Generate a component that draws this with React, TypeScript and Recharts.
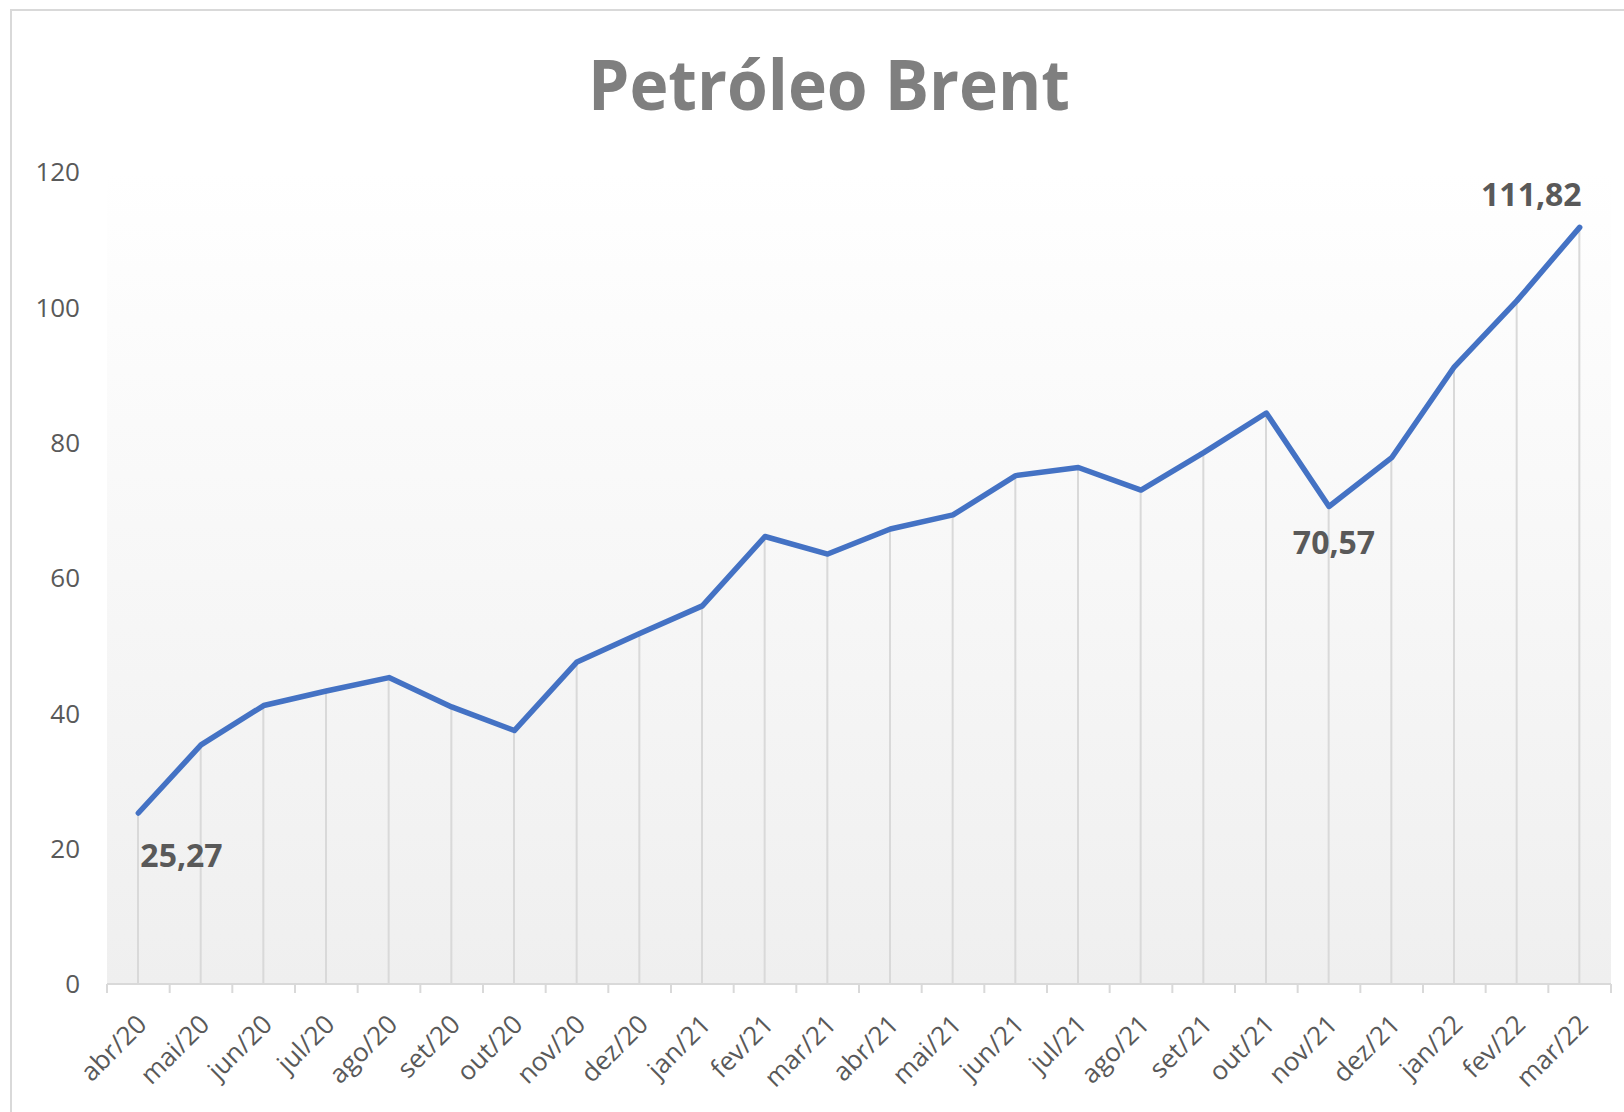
import React from 'react';
import { ComposedChart, Line, Bar, XAxis, YAxis, CartesianGrid, LabelList } from 'recharts';

const months = [
  'abr/20', 'mai/20', 'jun/20', 'jul/20', 'ago/20', 'set/20', 'out/20', 'nov/20',
  'dez/20', 'jan/21', 'fev/21', 'mar/21', 'abr/21', 'mai/21', 'jun/21', 'jul/21',
  'ago/21', 'set/21', 'out/21', 'nov/21', 'dez/21', 'jan/22', 'fev/22', 'mar/22',
];

const brent = [
  25.27, 35.33, 41.15, 43.3, 45.28, 40.95, 37.46, 47.59,
  51.8, 55.88, 66.13, 63.54, 67.25, 69.32, 75.13, 76.33,
  72.99, 78.52, 84.38, 70.57, 77.78, 91.21, 100.99, 111.82,
];

const yTicks = [0, 20, 40, 60, 80, 100, 120];

const data = months.map((month, i) => ({ month, value: brent[i] }));

const W = 1624;
const H = 1112;
const PLOT_LEFT = 107;
const PLOT_RIGHT = 1611;
const STEP = (PLOT_RIGHT - PLOT_LEFT) / months.length;

const GRID_GRAY = '#d9d9d9';
const TEXT_GRAY = '#595959';
const FONT = '"Open Sans", "Noto Sans", sans-serif';

const fmt = (v: number) => v.toFixed(2).replace('.', ',');

// index -> where the value label sits relative to the point
const labelSpots: Record<number, { dx: number; dy: number; anchor: string }> = {
  0: { dx: 2, dy: 54, anchor: 'start' },
  19: { dx: 5, dy: 48, anchor: 'middle' },
  23: { dx: 2, dy: -21, anchor: 'end' },
};

const XTick = (props: any) => {
  const { x, y, payload, index } = props;
  const half = STEP / 2;
  return (
    <g>
      <line x1={x - half} x2={x - half} y1={y} y2={y + 9} stroke={GRID_GRAY} strokeWidth={2} />
      {index === months.length - 1 && (
        <line x1={x + half} x2={x + half} y1={y} y2={y + 9} stroke={GRID_GRAY} strokeWidth={2} />
      )}
      <text
        transform={`translate(${x + 10},${y + 42}) rotate(-45)`}
        textAnchor="end"
        fontSize={26}
        fontFamily={FONT}
        fill={TEXT_GRAY}
      >
        {payload.value}
      </text>
    </g>
  );
};

const ValueLabel = (props: any) => {
  const { x, y, value, index } = props;
  const spot = labelSpots[index];
  if (!spot) return null;
  return (
    <text
      x={x + spot.dx}
      y={y + spot.dy}
      textAnchor={spot.anchor}
      fontSize={32}
      fontWeight={700}
      fontFamily={FONT}
      fill={TEXT_GRAY}
    >
      {fmt(value)}
    </text>
  );
};

export default function App() {
  return (
    <div style={{ position: 'absolute', left: 0, top: 0, width: W, height: H, overflow: 'hidden', background: '#fff' }}>
      <div
        style={{
          position: 'absolute',
          left: 10,
          top: 9,
          width: W + 100,
          height: H + 100,
          border: `2px solid ${GRID_GRAY}`,
          boxSizing: 'border-box',
        }}
      />
      <div style={{ position: 'absolute', left: 0, top: 0 }}>
        <ComposedChart
          width={W}
          height={H}
          data={data}
          margin={{ top: 172, right: W - PLOT_RIGHT, bottom: 8, left: 0 }}
        >
          <defs>
            <linearGradient id="plotBg" x1="0" y1="0" x2="0" y2="1">
              <stop offset="0%" stopColor="#ffffff" />
              <stop offset="12%" stopColor="#fdfdfd" />
              <stop offset="100%" stopColor="#efefef" />
            </linearGradient>
          </defs>
          <text
            x={829}
            y={110}
            textAnchor="middle"
            fontSize={70}
            fontWeight={700}
            fontFamily={FONT}
            fill="#7f7f7f"
            textLength={482}
            lengthAdjust="spacingAndGlyphs"
          >
            Petróleo Brent
          </text>
          <CartesianGrid horizontal={false} vertical={false} fill="url(#plotBg)" />
          <XAxis
            dataKey="month"
            scale="band"
            interval={0}
            height={120}
            axisLine={{ stroke: GRID_GRAY, strokeWidth: 2 }}
            tickLine={false}
            tickSize={0}
            tickMargin={0}
            tick={<XTick />}
          />
          <YAxis
            domain={[0, 120]}
            ticks={yTicks}
            width={PLOT_LEFT}
            axisLine={false}
            tickLine={false}
            tickSize={0}
            tickMargin={27}
            tick={{ fontSize: 26, fill: TEXT_GRAY, fontFamily: FONT }}
          />
          <Bar dataKey="value" barSize={2} fill={GRID_GRAY} isAnimationActive={false} />
          <Line
            type="linear"
            dataKey="value"
            stroke="#4472c4"
            strokeWidth={5.5}
            strokeLinejoin="round"
            strokeLinecap="round"
            dot={false}
            activeDot={false}
            isAnimationActive={false}
          >
            <LabelList dataKey="value" content={<ValueLabel />} />
          </Line>
        </ComposedChart>
      </div>
    </div>
  );
}
